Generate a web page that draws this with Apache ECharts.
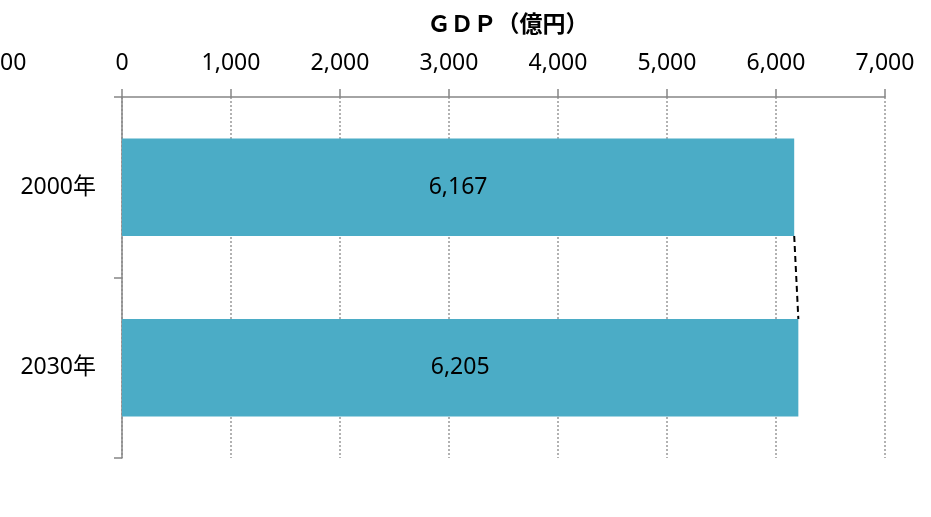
<!DOCTYPE html>
<html>
<head>
<meta charset="utf-8">
<script src="https://cdn.jsdelivr.net/npm/echarts@6/dist/echarts.min.js"></script>
<style>
  html, body { margin: 0; padding: 0; background: #fff; }
  #chart { width: 931px; height: 517px; }
</style>
</head>
<body>
<div id="chart"></div>
<script>
  const years = ['2000年', '2030年'];
  const gdp = [6167, 6205];
  const xTicks = { min: 0, max: 7000, step: 1000 };

  const font = '"Noto Sans", "Noto Sans CJK JP", sans-serif';
  const barColor = '#4BACC6';
  const gapRatio = 0.46;

  const chart = echarts.init(document.getElementById('chart'));
  const fmt = v => v.toLocaleString('en-US');

  chart.setOption({
    animation: false,
    title: {
      text: 'ＧＤＰ（億円）',
      left: 503,
      top: 7,
      textAlign: 'center',
      textStyle: {
        fontFamily: '"Noto Sans CJK JP", sans-serif',
        fontWeight: 'bold',
        fontSize: 23,
        color: '#000',
      },
    },
    graphic: [{
      // clipped label left of the axis start
      type: 'text',
      x: 0,
      y: 63,
      style: { text: '00', font: '23px ' + font, fill: '#000', verticalAlign: 'middle' },
    }],
    grid: { left: 122, right: 46, top: 97, bottom: 59 },
    xAxis: {
      type: 'value',
      position: 'top',
      min: xTicks.min,
      max: xTicks.max,
      interval: xTicks.step,
      axisLine: { show: true, lineStyle: { color: '#878787', width: 1.5 } },
      axisTick: { show: true, length: 8, lineStyle: { color: '#878787', width: 1.5 } },
      axisLabel: { margin: 22, fontFamily: font, fontSize: 23, color: '#000', formatter: fmt },
      splitLine: { show: true, lineStyle: { color: '#999', type: [2, 2], width: 1.5 } },
    },
    yAxis: {
      type: 'category',
      data: years,
      inverse: true,
      axisLine: { show: true, lineStyle: { color: '#878787', width: 1.5 } },
      axisTick: { show: true, length: 8, lineStyle: { color: '#878787', width: 1.5 } },
      axisLabel: { margin: 26, fontFamily: font, fontSize: 23, color: '#000' },
    },
    series: [
      {
        type: 'bar',
        data: gdp,
        barCategoryGap: (gapRatio * 100) + '%',
        itemStyle: { color: barColor },
        label: {
          show: true,
          position: 'inside',
          fontFamily: font,
          fontSize: 23,
          color: '#000',
          formatter: p => fmt(p.value),
        },
        z: 2,
      },
      {
        // series line joining the bar ends
        type: 'custom',
        data: [[gdp[0], 0, gdp[1], 1]],
        encode: { x: [0, 2], y: [1, 3] },
        renderItem: (params, api) => {
          const half = api.size([0, 1])[1] * (1 - gapRatio) / 2;
          const p0 = api.coord([api.value(0), api.value(1)]);
          const p1 = api.coord([api.value(2), api.value(3)]);
          return {
            type: 'line',
            shape: { x1: p0[0], y1: p0[1] + half, x2: p1[0], y2: p1[1] - half },
            style: { stroke: '#000', lineWidth: 2, lineDash: [6, 4] },
          };
        },
        z: 3,
      },
    ],
  });
</script>
</body>
</html>
